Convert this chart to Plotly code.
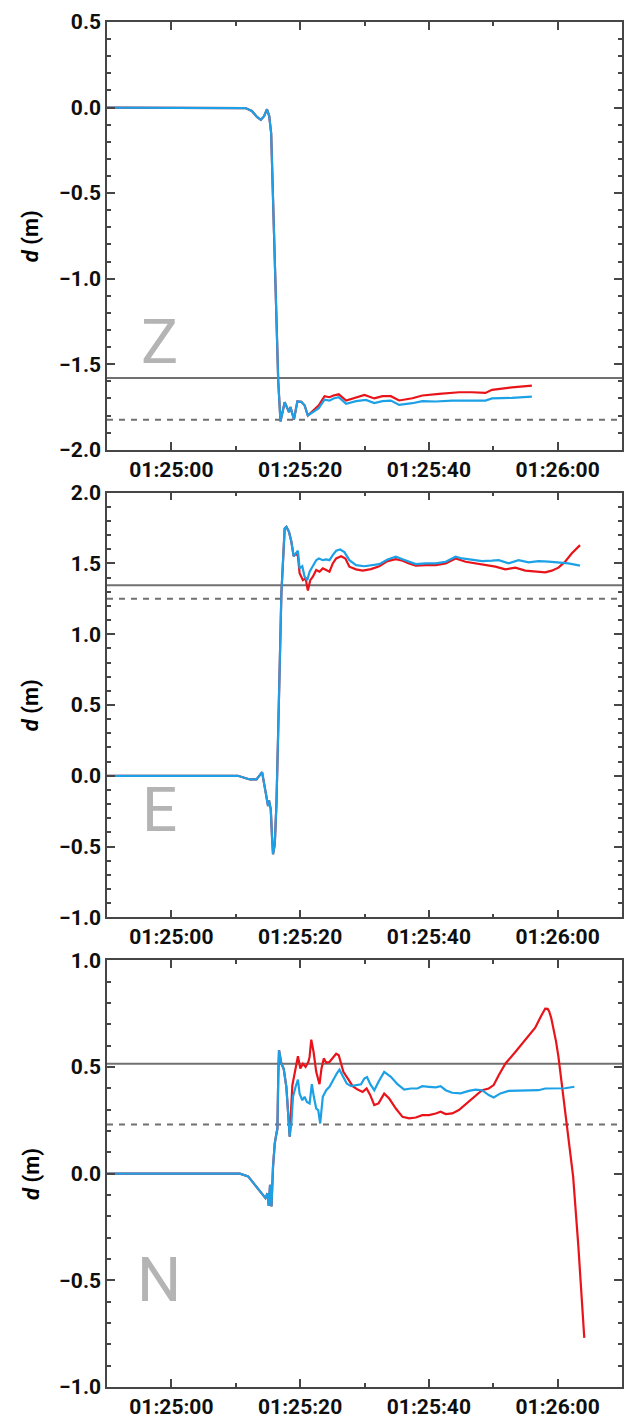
import pandas as pd
import plotly.graph_objects as go

# ---------------- data (time in seconds after 01:24:50) ----------------
BASE = pd.Timestamp("2000-01-01 01:24:50")

# Z component
z_early_t = [0, 20.5, 21.5, 22.5, 23.3, 23.9, 24.4, 24.85, 25.2, 25.5, 25.8, 26.0, 26.3, 26.6, 26.95,
             27.6, 28.27, 28.5, 29.04, 29.57, 30.18, 30.69, 31.2]
z_early_v = [0, 0, -0.003, -0.02, -0.055, -0.072, -0.05, -0.01, -0.05, -0.15, -0.55, -0.9, -1.3, -1.6, -1.835,
             -1.722, -1.78, -1.75, -1.823, -1.718, -1.72, -1.74, -1.80]
z_blue_t = [31.98, 32.9, 33.79, 34.56, 35.18, 36.0, 37.14, 38.69, 40.23, 41.52, 42.8, 44.1, 45.38, 47.44,
            48.99, 51.06, 53.63, 56.21, 58.79, 59.81, 62.9, 66.0]
z_blue_v = [-1.78, -1.757, -1.707, -1.713, -1.70, -1.693, -1.732, -1.716, -1.709, -1.727, -1.716, -1.713,
            -1.738, -1.728, -1.716, -1.718, -1.713, -1.713, -1.713, -1.70, -1.697, -1.689]
z_red_t = [31.98, 32.9, 33.79, 34.56, 35.18, 36.0, 37.14, 38.69, 40.0, 41.52, 42.8, 44.1, 45.38, 47.44,
           48.99, 51.6, 54.7, 56.7, 58.79, 59.81, 62.9, 66.0]
z_red_v = [-1.775, -1.74, -1.687, -1.693, -1.683, -1.676, -1.712, -1.693, -1.68, -1.70, -1.687, -1.687,
           -1.712, -1.699, -1.683, -1.673, -1.664, -1.664, -1.668, -1.65, -1.635, -1.625]
z_solid, z_dashed = -1.58, -1.825

# E component
e_early_t = [0, 20.33, 22.19, 23.23, 24.09, 24.77, 25.02, 25.17, 25.44, 25.64, 25.79, 26.06, 26.32, 26.57,
             27.09, 27.6, 27.87, 28.27, 28.64, 28.99]
e_early_v = [0, 0, -0.026, -0.026, 0.026, -0.143, -0.213, -0.174, -0.237, -0.437, -0.554, -0.484, -0.202,
             0.268, 1.289, 1.746, 1.758, 1.723, 1.653, 1.551]
e_blue_t = [29.41, 29.66, 29.92, 30.34, 30.69, 31.11, 31.47, 31.98, 32.5, 32.91, 33.52, 34.05, 34.56, 35.07,
            35.6, 36.21, 36.88, 37.65, 38.69, 39.97, 41.01, 42.29, 43.58, 44.87, 45.9, 46.93, 47.97, 49.51,
            51.06, 52.61, 54.15, 55.17, 56.72, 58.26, 59.81, 60.85, 62.39, 63.94, 65.49, 67.03, 68.58, 70.13,
            71.67, 73.48]
e_blue_v = [1.575, 1.589, 1.465, 1.48, 1.406, 1.382, 1.441, 1.477, 1.523, 1.535, 1.523, 1.528, 1.523, 1.559,
            1.589, 1.598, 1.58, 1.523, 1.488, 1.48, 1.488, 1.495, 1.528, 1.547, 1.53, 1.512, 1.495, 1.50,
            1.50, 1.512, 1.547, 1.535, 1.523, 1.516, 1.519, 1.523, 1.50, 1.523, 1.507, 1.516, 1.512, 1.505,
            1.50, 1.484]
e_red_t = [29.41, 29.66, 29.92, 30.43, 30.85, 31.2, 31.58, 31.98, 32.5, 33.01, 33.52, 34.05, 34.56, 35.07,
           35.6, 36.37, 37.03, 37.65, 38.69, 39.71, 41.01, 42.29, 43.58, 44.87, 45.9, 46.93, 47.97, 49.51,
           51.06, 52.61, 54.15, 55.7, 57.25, 58.79, 60.34, 61.88, 63.43, 64.98, 66.52, 68.07, 69.09, 70.13,
           71.16, 72.18, 73.48]
e_red_v = [1.57, 1.55, 1.43, 1.382, 1.394, 1.308, 1.382, 1.406, 1.453, 1.441, 1.465, 1.453, 1.441, 1.50,
           1.535, 1.551, 1.535, 1.477, 1.458, 1.449, 1.46, 1.48, 1.516, 1.53, 1.519, 1.50, 1.484, 1.488,
           1.488, 1.50, 1.535, 1.512, 1.50, 1.488, 1.477, 1.458, 1.47, 1.449, 1.441, 1.437, 1.449, 1.47,
           1.512, 1.570, 1.629]
e_solid, e_dashed = 1.345, 1.25

# N component
n_early_t = [0, 20.64, 21.93, 22.96, 24.0, 24.62, 24.93, 25.13, 25.33, 25.55, 25.79, 26.06, 26.32, 26.47,
             26.6, 26.72, 27.09, 27.45, 27.86, 28.11, 28.38]
n_early_v = [0, 0, -0.013, -0.053, -0.092, -0.115, -0.092, -0.151, -0.053, -0.154, 0.032, 0.142, 0.188,
             0.21, 0.45, 0.578, 0.515, 0.491, 0.407, 0.313, 0.173]
n_blue_t = [28.64, 28.89, 29.3, 29.66, 29.92, 30.34, 30.69, 31.05, 31.47, 31.82, 32.13, 32.5, 32.81, 33.12,
            33.52, 34.05, 34.56, 35.07, 35.69, 36.11, 36.62, 37.24, 37.92, 38.69, 39.46, 39.97, 40.39, 40.9,
            41.52, 42.18, 43.06, 44.1, 45.12, 46.16, 47.19, 48.21, 48.99, 50.02, 51.06, 51.83, 52.61, 53.63,
            54.92, 56.21, 57.25, 58.26, 59.3, 60.07, 61.11, 62.39, 63.94, 65.49, 67.03, 68.07, 69.62, 71.16,
            72.6]
n_blue_v = [0.235, 0.36, 0.407, 0.441, 0.375, 0.344, 0.36, 0.336, 0.329, 0.419, 0.36, 0.305, 0.298, 0.235,
            0.36, 0.391, 0.407, 0.438, 0.469, 0.487, 0.454, 0.422, 0.41, 0.415, 0.419, 0.446, 0.453, 0.419,
            0.391, 0.431, 0.477, 0.454, 0.419, 0.394, 0.399, 0.399, 0.41, 0.407, 0.404, 0.41, 0.391, 0.379,
            0.376, 0.388, 0.394, 0.391, 0.368, 0.357, 0.376, 0.388, 0.388, 0.388, 0.391, 0.399, 0.399, 0.40,
            0.407]
n_red_t = [28.79, 29.3, 29.66, 30.03, 30.43, 30.85, 31.27, 31.47, 31.73, 32.09, 32.5, 33.01, 33.32, 33.68,
           34.05, 34.56, 35.07, 35.6, 36.0, 36.37, 36.72, 37.39, 38.16, 38.94, 39.71, 40.33, 40.9, 41.52,
           42.18, 43.06, 43.84, 44.87, 45.9, 46.93, 47.97, 48.99, 50.02, 51.06, 51.83, 52.61, 53.63, 54.66,
           55.7, 56.98, 58.26, 59.3, 60.07, 60.85, 61.88, 63.43, 64.98, 66.52, 67.54, 68.07, 68.45, 68.69,
           69.0, 69.35, 69.75, 70.13, 70.74, 71.41, 71.83, 72.41, 73.22, 74.14]
n_red_v = [0.414, 0.50, 0.55, 0.493, 0.515, 0.50, 0.523, 0.547, 0.628, 0.57, 0.477, 0.419, 0.493, 0.54,
           0.52, 0.523, 0.54, 0.562, 0.555, 0.515, 0.477, 0.446, 0.41, 0.394, 0.383, 0.399, 0.368, 0.321,
           0.329, 0.375, 0.352, 0.305, 0.266, 0.259, 0.263, 0.274, 0.274, 0.282, 0.29, 0.279, 0.282, 0.298,
           0.326, 0.36, 0.391, 0.399, 0.415, 0.461, 0.515, 0.57, 0.625, 0.684, 0.745, 0.773, 0.772, 0.76,
           0.73, 0.68, 0.62, 0.547, 0.391, 0.22, 0.126, -0.014, -0.34, -0.77]
n_solid, n_dashed = 0.515, 0.23

panel_labels = ["Z", "E", "N"]
y_ranges = [[-2.0, 0.5], [-1.0, 2.0], [-1.0, 1.0]]
x_range_s = [0, 80]
y_title = "<i>d</i> (m)"

# ---------------- styling ----------------
RED = "rgb(232,20,26)"
BLUE = "rgb(28,160,230)"
GRAY = "rgb(112,112,112)"
AX = "rgb(70,70,70)"
FONT = "Roboto, Liberation Sans, sans-serif"

W, H = 625, 1420
ML, MR, MT, MB = 107, 1, 22, 29
ph = H - MT - MB
tops_px = [22, 494, 963]
bots_px = [451, 920, 1391]
domains = [[(H - MB - b) / ph, (H - MB - t) / ph] for t, b in zip(tops_px, bots_px)]
domains = [[max(0, d0), min(1, d1)] for d0, d1 in domains]


def ts(seconds):
    return BASE + pd.to_timedelta(seconds, unit="s")


fig = go.Figure()

panels = [
    (z_early_t, z_early_v, z_blue_t, z_blue_v, z_red_t, z_red_v, z_solid, z_dashed),
    (e_early_t, e_early_v, e_blue_t, e_blue_v, e_red_t, e_red_v, e_solid, e_dashed),
    (n_early_t, n_early_v, n_blue_t, n_blue_v, n_red_t, n_red_v, n_solid, n_dashed),
]

for i, (et, ev, bt, bv, rt, rv, ys, yd) in enumerate(panels):
    n = "" if i == 0 else str(i + 1)
    xa, ya = "x" + n, "y" + n
    fig.add_trace(go.Scatter(x=ts(et + rt), y=ev + rv, mode="lines",
                             line=dict(color=RED, width=2.2), xaxis=xa, yaxis=ya, showlegend=False))
    fig.add_trace(go.Scatter(x=ts(et + bt), y=ev + bv, mode="lines",
                             line=dict(color=BLUE, width=2.2), xaxis=xa, yaxis=ya, showlegend=False))
    fig.add_shape(type="line", xref=xa + " domain", yref=ya, x0=0, x1=1, y0=ys, y1=ys,
                  line=dict(color=GRAY, width=2), layer="below")
    fig.add_shape(type="line", xref=xa + " domain", yref=ya, x0=0, x1=1, y0=yd, y1=yd,
                  line=dict(color=GRAY, width=2, dash="6px,6px"), layer="below")
    fig.add_annotation(text=panel_labels[i], xref=xa + " domain", yref=ya + " domain",
                       x=0.101, y=0.253, xanchor="center", yanchor="middle", showarrow=False,
                       font=dict(family=FONT, size=62, color="rgb(180,180,180)"))
    fig.add_annotation(text=y_title, xref="paper", yref=ya + " domain", x=(31 - ML) / (W - ML - MR),
                       y=0.5, xanchor="center", yanchor="middle", textangle=-90, showarrow=False,
                       font=dict(family=FONT, size=22, color="black", weight="bold"))

    axis_common = dict(showline=True, linecolor=AX, linewidth=1.5, mirror="ticks",
                       ticks="inside", ticklen=8, tickwidth=1.5, tickcolor=AX,
                       showgrid=False, zeroline=False,
                       tickfont=dict(family=FONT, size=21, color="rgb(15,15,15)", weight="bold"))
    fig.layout["xaxis" + n] = dict(
        axis_common, type="date", anchor=ya, domain=[0, 1],
        range=[ts(x_range_s[0]), ts(x_range_s[1])],
        tick0=ts(10), dtick=20000, tickformat="%H:%M:%S",
        minor=dict(dtick=10000, ticks="inside", ticklen=4, tickwidth=1.5, tickcolor=AX, showgrid=False),
    )
    fig.layout["yaxis" + n] = dict(
        axis_common, anchor=xa, domain=domains[i], range=y_ranges[i],
        dtick=0.5, tickformat=".1f",
        minor=dict(dtick=0.1, ticks="inside", ticklen=4, tickwidth=1.5, tickcolor=AX, showgrid=False),
    )

fig.update_layout(width=W, height=H, margin=dict(l=ML, r=MR, t=MT, b=MB),
                  plot_bgcolor="white", paper_bgcolor="white", showlegend=False)

fig.write_html("out.html")
